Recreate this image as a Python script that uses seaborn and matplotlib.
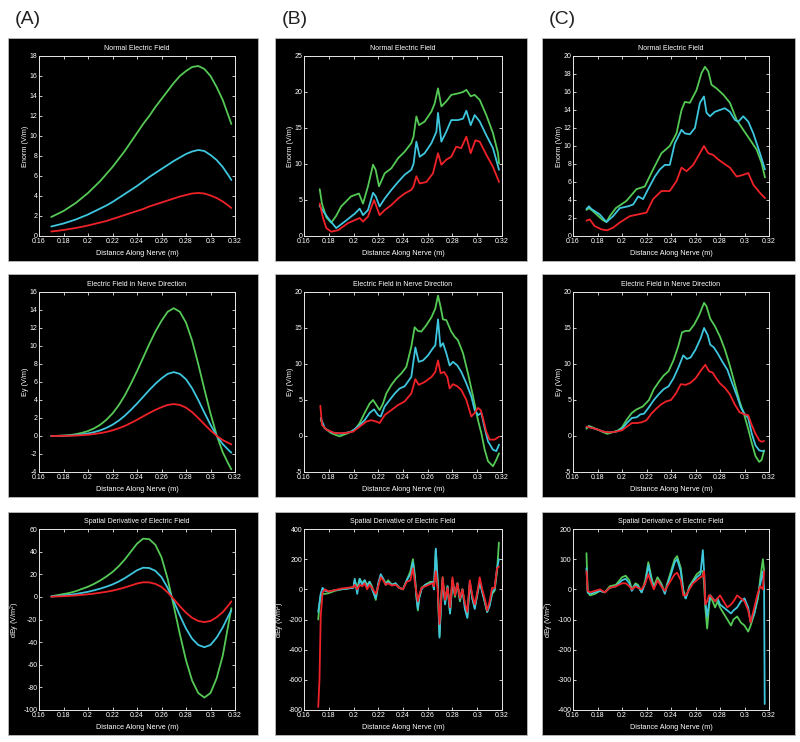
import numpy as np
import pandas as pd
import seaborn as sns
import matplotlib
matplotlib.use("Agg")
import matplotlib.pyplot as plt
from matplotlib.patches import Rectangle

# ---------------- DATA ----------------
x_tick_labels = ["0.16", "0.18", "0.2", "0.22", "0.24", "0.26", "0.28", "0.3", "0.32"]
x_ticks = [0.16, 0.18, 0.20, 0.22, 0.24, 0.26, 0.28, 0.30, 0.32]
titles = ["Normal Electric Field", "Electric Field in Nerve Direction", "Spatial Derivative of Electric Field"]
ylabels = ["Enorm (V/m)", "Ey (V/m)", "dEy (V/m$^2$)"]
panel_labels = ["(A)", "(B)", "(C)"]

# Column A (smooth)
A_x = [0.170, 0.175, 0.180, 0.185, 0.190, 0.195, 0.200, 0.205, 0.210, 0.215,
       0.220, 0.225, 0.230, 0.235, 0.240, 0.245, 0.250, 0.255, 0.260, 0.265,
       0.270, 0.275, 0.280, 0.285, 0.290, 0.295, 0.300, 0.305, 0.310, 0.315, 0.317]
A1_green = [1.9, 2.2, 2.5, 2.9, 3.3, 3.8, 4.3, 4.9, 5.5, 6.2, 6.9, 7.7, 8.5, 9.4, 10.3, 11.2,
            12.0, 12.9, 13.7, 14.5, 15.3, 16.0, 16.5, 16.9, 17.0, 16.7, 16.0, 14.9, 13.6, 11.9, 11.2]
A1_cyan = [0.95, 1.1, 1.25, 1.45, 1.65, 1.9, 2.15, 2.45, 2.75, 3.05, 3.4, 3.8, 4.2, 4.6, 5.0, 5.45,
           5.9, 6.3, 6.7, 7.1, 7.5, 7.85, 8.2, 8.45, 8.6, 8.5, 8.1, 7.6, 6.9, 6.0, 5.6]
A1_red = [0.45, 0.52, 0.6, 0.7, 0.8, 0.92, 1.05, 1.2, 1.35, 1.5, 1.7, 1.9, 2.1, 2.3, 2.5, 2.7,
          2.95, 3.15, 3.35, 3.55, 3.75, 3.95, 4.1, 4.25, 4.3, 4.25, 4.05, 3.8, 3.45, 3.0, 2.8]
A2_green = [0.0, 0.02, 0.05, 0.1, 0.2, 0.35, 0.55, 0.85, 1.25, 1.8, 2.5, 3.4, 4.5, 5.8, 7.2, 8.7,
            10.2, 11.6, 12.8, 13.8, 14.2, 13.8, 12.6, 10.6, 8.0, 5.2, 2.5, 0.1, -1.8, -3.2, -3.7]
A2_cyan = [0.0, 0.01, 0.03, 0.05, 0.1, 0.18, 0.28, 0.43, 0.63, 0.9, 1.25, 1.7, 2.25, 2.9, 3.6, 4.35,
           5.1, 5.8, 6.4, 6.9, 7.1, 6.9, 6.3, 5.3, 4.0, 2.6, 1.25, 0.05, -0.9, -1.6, -1.85]
A2_red = [0.0, 0.005, 0.015, 0.03, 0.05, 0.09, 0.14, 0.22, 0.32, 0.45, 0.63, 0.85, 1.12, 1.45, 1.8, 2.18,
          2.55, 2.9, 3.2, 3.45, 3.55, 3.45, 3.15, 2.65, 2.0, 1.3, 0.62, 0.03, -0.45, -0.8, -0.93]
A3_green = [0.5, 1.5, 2.5, 3.5, 5, 7, 9, 11.5, 14.5, 18, 22, 27, 33, 40, 47, 51.5,
            51, 46, 35, 16, -8, -33, -56, -74, -85, -89, -85, -72, -52, -22, -10]
A3_cyan = [0.3, 0.8, 1.3, 1.8, 2.5, 3.5, 4.5, 5.8, 7.3, 9, 11, 13.5, 16.5, 20, 23.5, 25.8,
           25.5, 23, 17.5, 8, -4, -16.5, -28, -37, -42.5, -44.5, -42.5, -36, -27, -16, -12]
A3_red = [0.1, 0.4, 0.6, 0.9, 1.3, 1.8, 2.3, 2.9, 3.7, 4.5, 5.5, 6.8, 8.3, 10, 11.8, 12.9,
          12.8, 11.5, 8.8, 4, -2, -8.3, -14, -18.5, -21.3, -22.3, -21.3, -18, -13.5, -7, -4]

# Column B
B1_green_x = [0.1727, 0.1745, 0.178, 0.182, 0.186, 0.190, 0.198, 0.2044, 0.2077, 0.2117,
              0.2158, 0.2179, 0.2206, 0.2252, 0.2306, 0.236, 0.2413, 0.2467, 0.2485, 0.2508,
              0.253, 0.2575, 0.263, 0.2656, 0.2683, 0.271, 0.275, 0.279, 0.2844, 0.2885,
              0.2912, 0.2947, 0.2979, 0.302, 0.3073, 0.3127, 0.3168, 0.3176]
B1_green = [6.5, 4.5, 2.6, 1.85, 2.8, 4.1, 5.5, 5.9, 4.5, 6.9,
            9.9, 9.2, 6.9, 8.7, 9.4, 10.8, 11.7, 12.9, 13.8, 16.6,
            15.4, 15.9, 17.3, 18.4, 20.5, 18.0, 18.7, 19.6, 19.8, 20.0,
            20.3, 19.4, 19.6, 18.9, 16.8, 14.3, 11.5, 10.1]
B1_cyan_x = [0.1725, 0.1794, 0.186, 0.1929, 0.201, 0.205, 0.2077, 0.2117, 0.2158, 0.218,
             0.2211, 0.2252, 0.2306, 0.236, 0.2413, 0.2467, 0.2485, 0.2508, 0.2535, 0.2575,
             0.263, 0.267, 0.2683, 0.271, 0.275, 0.279, 0.2844, 0.2885, 0.2912, 0.2947,
             0.2979, 0.302, 0.3073, 0.3127, 0.3176]
B1_cyan = [4.2, 2.5, 1.1, 2.0, 3.1, 3.8, 2.9, 3.6, 6.0, 5.5,
           4.1, 5.2, 6.4, 7.5, 8.5, 9.2, 10.0, 13.1, 11.0, 11.5,
           12.9, 14.5, 17.1, 13.1, 14.5, 16.1, 16.1, 16.3, 17.4, 15.4,
           16.8, 15.9, 14.0, 12.2, 9.2]
B1_red_x = [0.1727, 0.1754, 0.178, 0.182, 0.1875, 0.1956, 0.201, 0.205, 0.2077, 0.2117,
            0.2166, 0.2185, 0.2211, 0.2252, 0.2306, 0.236, 0.2413, 0.2467, 0.2485, 0.2508,
            0.2535, 0.2589, 0.2642, 0.2683, 0.271, 0.275, 0.279, 0.283, 0.287, 0.2912,
            0.2947, 0.2985, 0.302, 0.3073, 0.3127, 0.3176]
B1_red = [4.5, 2.5, 1.1, 0.6, 0.8, 1.8, 2.2, 2.5, 2.0, 2.7,
          5.0, 4.1, 2.9, 3.6, 4.3, 5.2, 5.9, 6.4, 6.9, 8.3,
          7.3, 7.5, 8.7, 11.5, 9.9, 10.6, 11.0, 12.4, 12.2, 13.8,
          11.5, 13.3, 13.1, 11.3, 9.6, 7.5]

B2_green_x = [0.1735, 0.1767, 0.182, 0.1888, 0.1956, 0.201, 0.205, 0.209, 0.213, 0.2158,
              0.2185, 0.2211, 0.2238, 0.2265, 0.2306, 0.2346, 0.2387, 0.2427, 0.2467, 0.2494,
              0.2521, 0.2548, 0.2589, 0.263, 0.2661, 0.2683, 0.2704, 0.2723, 0.275, 0.279,
              0.2817, 0.2844, 0.2885, 0.2925, 0.2966, 0.3006, 0.3033, 0.306, 0.3087, 0.3127,
              0.3154, 0.3176]
B2_green = [2.2, 1.1, 0.4, -0.05, 0.4, 0.85, 1.8, 3.2, 4.5, 5.0,
            4.3, 3.6, 4.5, 5.9, 7.1, 8.0, 8.7, 9.6, 12.4, 15.1,
            14.6, 14.5, 15.4, 16.5, 17.7, 19.5, 17.9, 16.2, 16.1, 14.5,
            13.8, 13.3, 11.5, 8.7, 5.5, 2.2, 0.4, -1.9, -3.5, -4.2,
            -3.3, -2.4]
B2_cyan_x = [0.1735, 0.1767, 0.182, 0.190, 0.198, 0.2036, 0.209, 0.213, 0.2166, 0.2198,
             0.222, 0.2252, 0.2292, 0.2333, 0.2373, 0.2413, 0.2467, 0.25, 0.2527, 0.2562,
             0.2602, 0.2642, 0.2661, 0.2683, 0.2702, 0.2723, 0.275, 0.2777, 0.2804, 0.2839,
             0.2871, 0.2912, 0.2952, 0.2979, 0.3006, 0.3033, 0.306, 0.3087, 0.3127, 0.3154,
             0.3176]
B2_cyan = [2.5, 1.1, 0.5, 0.3, 0.6, 1.3, 2.2, 3.2, 3.7, 2.9,
           2.7, 4.1, 5.0, 5.9, 6.6, 6.9, 8.2, 12.3, 10.3, 10.5,
           11.2, 12.2, 12.6, 16.2, 12.4, 12.9, 11.5, 9.8, 10.3, 9.8,
           8.9, 7.3, 5.5, 3.6, 2.9, 3.2, 1.1, -0.75, -1.9, -2.1,
           -1.2]
B2_red_x = [0.1732, 0.1746, 0.178, 0.1848, 0.1929, 0.1996, 0.205, 0.2104, 0.2144, 0.2185,
            0.2211, 0.2252, 0.2306, 0.236, 0.2413, 0.2467, 0.25, 0.2527, 0.2575, 0.263,
            0.2661, 0.2683, 0.2704, 0.2731, 0.2758, 0.2777, 0.2804, 0.2839, 0.2871, 0.2912,
            0.2952, 0.2979, 0.3006, 0.3028, 0.3046, 0.3073, 0.31, 0.314, 0.3176]
B2_red = [4.2, 1.5, 0.9, 0.4, 0.4, 0.6, 1.3, 2.0, 2.2, 2.0,
          1.8, 2.9, 3.6, 4.3, 4.8, 5.9, 7.9, 7.1, 7.5, 8.2,
          8.9, 10.5, 8.7, 8.9, 8.2, 6.6, 7.2, 6.9, 6.4, 5.0,
          2.7, 3.2, 3.9, 3.6, 2.5, 0.6, -0.5, -0.5, -0.1]

B3_x = [0.1715, 0.1725, 0.1735, 0.175, 0.177, 0.180, 0.185, 0.190, 0.195, 0.200,
        0.201, 0.203, 0.205, 0.207, 0.209, 0.211, 0.213, 0.215, 0.218, 0.220,
        0.222, 0.224, 0.226, 0.228, 0.231, 0.234, 0.237, 0.240, 0.243, 0.246,
        0.248, 0.2495, 0.251, 0.252, 0.253, 0.255, 0.258, 0.262, 0.264, 0.265,
        0.2665, 0.268, 0.2695, 0.271, 0.272, 0.274, 0.276, 0.278, 0.280, 0.282,
        0.284, 0.286, 0.288, 0.290, 0.292, 0.294, 0.296, 0.298, 0.300, 0.302,
        0.304, 0.306, 0.308, 0.310, 0.312, 0.314, 0.316, 0.3175]
B3_green = [-200, -100, -40, -30, -30, -25, -10, 0, 5, 15,
            60, 10, 70, 40, 60, 30, 50, 20, -70, 30,
            90, 70, 40, 60, 30, 40, 10, 0, 60, 120,
            200, 100, -60, -140, -60, 10, 30, 50, 50, 0,
            260, 50, -310, -50, 80, -80, 20, -160, 60, -50,
            40, -80, 0, -100, -180, 40, -60, -120, -40, 50,
            -10, -80, -150, -100, -30, -10, 120, 310]
B3_cyan = [-150, -90, -30, 10, -10, -15, -5, 0, 5, 10,
           70, -30, 70, 30, 60, 10, 50, 0, -60, 40,
           100, 70, 30, 50, 30, 40, 10, 0, 60, 100,
           180, 80, -60, -130, -60, 0, 30, 40, 50, 0,
           270, 50, -320, -50, 60, -100, 20, -160, 60, -40,
           40, -70, 0, -130, -190, 50, -60, -130, -30, 50,
           -20, -80, -150, -110, -20, 0, 140, 200]
B3_red = [-780, -600, -180, -20, 0, -15, -5, 5, 10, 15,
          30, 0, 30, 20, 40, 0, 30, 10, -30, 20,
          80, 60, 30, 40, 25, 30, 10, 0, 50, 60,
          140, 50, -30, -80, -40, 10, 20, 35, 40, 20,
          120, 0, -230, -50, 80, -70, 10, -120, 80, -40,
          40, -60, 0, -90, -150, 60, -40, -100, -20, 80,
          0, -60, -140, -80, 10, 10, 140, 150]

# Column C
C1_green_x = [0.171, 0.173, 0.176, 0.180, 0.184, 0.1873, 0.190, 0.195, 0.2036, 0.2118,
              0.2186, 0.2254, 0.2322, 0.239, 0.2445, 0.2486, 0.2513, 0.2554, 0.2608, 0.2649,
              0.2677, 0.2704, 0.2731, 0.2772, 0.2827, 0.2881, 0.2936, 0.299, 0.3045, 0.3099,
              0.314, 0.3167]
C1_green = [2.9, 3.1, 2.8, 2.3, 1.8, 1.55, 2.2, 3.1, 3.9, 5.2,
            5.5, 7.4, 9.2, 10.0, 11.4, 14.0, 14.9, 14.8, 16.2, 18.1,
            18.8, 18.3, 16.8, 16.4, 15.7, 14.8, 12.9, 11.8, 10.7, 9.6,
            8.1, 6.5]
C1_cyan_x = [0.171, 0.173, 0.175, 0.1818, 0.1873, 0.1927, 0.1982, 0.205, 0.2091, 0.2132,
             0.2172, 0.2213, 0.2268, 0.2309, 0.235, 0.239, 0.2431, 0.2486, 0.2513, 0.2554,
             0.2595, 0.2636, 0.2669, 0.269, 0.2718, 0.2758, 0.2799, 0.284, 0.2881, 0.2922,
             0.2949, 0.299, 0.3031, 0.3072, 0.3126, 0.3167]
C1_cyan = [3.0, 3.3, 3.0, 2.4, 1.55, 2.2, 3.1, 3.3, 3.5, 4.4,
           4.1, 5.2, 6.6, 7.4, 7.9, 7.9, 10.3, 11.8, 11.4, 11.3,
           12.0, 14.8, 15.5, 13.7, 13.3, 13.8, 14.0, 14.2, 13.8, 12.9,
           12.7, 13.3, 12.7, 11.4, 9.2, 7.4]
C1_red_x = [0.171, 0.1736, 0.1777, 0.1832, 0.1878, 0.1927, 0.1982, 0.2063, 0.2132, 0.22,
            0.2254, 0.2322, 0.239, 0.2445, 0.2486, 0.2527, 0.2581, 0.2636, 0.2669, 0.2704,
            0.2745, 0.2786, 0.2827, 0.2881, 0.2936, 0.299, 0.3031, 0.3072, 0.3126, 0.3167]
C1_red = [1.7, 1.85, 1.1, 0.74, 0.63, 0.92, 1.5, 2.2, 2.4, 2.6,
          4.1, 5.0, 5.0, 6.1, 7.6, 7.2, 7.9, 9.2, 10.0, 9.2,
          9.0, 8.5, 8.1, 7.6, 6.6, 6.8, 7.0, 5.7, 4.8, 4.2]

C2_green_x = [0.171, 0.173, 0.176, 0.18, 0.185, 0.188, 0.192, 0.197, 0.2, 0.204,
              0.208, 0.212, 0.217, 0.222, 0.226, 0.23, 0.234, 0.238, 0.242, 0.246,
              0.249, 0.252, 0.255, 0.259, 0.263, 0.267, 0.269, 0.272, 0.276, 0.28,
              0.284, 0.288, 0.292, 0.296, 0.3, 0.303, 0.306, 0.309, 0.312, 0.314, 0.316]
C2_green = [1.0, 1.4, 1.2, 0.9, 0.5, 0.3, 0.5, 0.8, 1.2, 2.3,
            3.2, 3.7, 4.1, 5.0, 6.5, 7.5, 8.4, 9.0, 10.5, 12.5,
            14.4, 14.6, 14.6, 15.5, 16.8, 18.5, 18.0, 16.3, 15.2, 13.8,
            12.0, 9.8, 7.3, 4.8, 2.8, 1.0, -1.0, -2.8, -3.6, -3.3, -2.0]
C2_cyan_x = [0.171, 0.173, 0.176, 0.18, 0.185, 0.19, 0.195, 0.2, 0.204, 0.208,
             0.212, 0.215, 0.218, 0.222, 0.226, 0.23, 0.234, 0.238, 0.242, 0.246,
             0.25, 0.253, 0.256, 0.26, 0.264, 0.267, 0.27, 0.272, 0.275, 0.278,
             0.282, 0.286, 0.29, 0.294, 0.297, 0.3, 0.303, 0.306, 0.309, 0.312, 0.315, 0.316]
C2_cyan = [1.2, 1.3, 1.1, 0.9, 0.6, 0.5, 0.6, 1.0, 1.8, 2.5,
           2.6, 3.0, 3.1, 4.0, 5.0, 5.8, 6.5, 6.9, 8.0, 9.5,
           11.2, 10.7, 10.9, 12.0, 13.5, 15.0, 14.0, 12.7, 12.3, 11.5,
           10.3, 9.2, 7.3, 5.5, 4.0, 3.1, 2.5, 0.3, -1.3, -2.0, -2.1, -2.1]
C2_red_x = [0.171, 0.173, 0.176, 0.18, 0.185, 0.19, 0.195, 0.2, 0.204, 0.208,
            0.212, 0.216, 0.22, 0.224, 0.228, 0.232, 0.236, 0.24, 0.244, 0.248,
            0.252, 0.256, 0.26, 0.264, 0.268, 0.271, 0.274, 0.277, 0.28, 0.284,
            0.288, 0.292, 0.296, 0.3, 0.303, 0.306, 0.309, 0.312, 0.314, 0.316]
C2_red = [1.3, 1.2, 1.1, 0.9, 0.6, 0.5, 0.6, 0.8, 1.3, 1.8,
          1.8, 1.9, 2.2, 3.1, 3.8, 4.4, 4.8, 5.0, 5.9, 7.2,
          7.1, 7.4, 8.0, 9.0, 9.9, 9.0, 8.8, 8.0, 7.3, 6.7,
          5.8, 4.4, 3.3, 3.0, 2.9, 1.5, 0.3, -0.6, -0.8, -0.7]

C3_x = [0.171, 0.172, 0.174, 0.178, 0.182, 0.186, 0.19, 0.195, 0.2, 0.203,
        0.206, 0.208, 0.211, 0.213, 0.216, 0.219, 0.2215, 0.224, 0.226, 0.229,
        0.232, 0.235, 0.237, 0.24, 0.243, 0.245, 0.248, 0.25, 0.252, 0.255,
        0.258, 0.261, 0.264, 0.266, 0.267, 0.268, 0.2695, 0.271, 0.272, 0.274,
        0.276, 0.278, 0.28, 0.283, 0.286, 0.289, 0.291, 0.294, 0.297, 0.3,
        0.303, 0.305, 0.308, 0.311, 0.313, 0.315, 0.316]
C3_cyan_x = C3_x + [0.3165]
C3_green = [120, -10, -20, -15, -5, -10, 10, 15, 40, 45,
            30, 0, 20, 15, -10, 30, 90, 40, 10, 40,
            20, -10, 20, 60, 100, 110, 70, 0, -30, 10,
            30, 50, 60, 60, 20, -60, -130, -60, -20, -40,
            -60, -40, -60, -80, -100, -120, -100, -90, -110, -120,
            -140, -120, -80, -30, 40, 100, 60]
C3_cyan = [70, -10, -15, -10, -5, -10, 5, 10, 30, 35,
           20, -5, 15, 10, -10, 20, 80, 30, 5, 30,
           15, -15, 15, 50, 90, 100, 60, -10, -30, 5,
           25, 40, 50, 130, 60, -40, -90, -50, -20, -30,
           -40, -30, -50, -60, -70, -80, -70, -60, -40, -30,
           -60, -110, -80, -20, 20, 60, 0, -380]
C3_red = [60, -5, -10, -5, 0, -10, 5, 10, 20, 20,
          10, 0, 10, 5, 0, 20, 50, 20, 0, 30,
          10, -5, 10, 30, 50, 55, 30, -20, -20, 0,
          20, 30, 40, 45, 60, -50, -40, -20, -20, -30,
          -40, -30, -20, -40, -60, -50, -40, -20, -30, -40,
          -70, -110, -60, -10, 10, 0, 60]

y_limits = {
    (0, 0): (0, 18, 2), (1, 0): (-4, 16, 2), (2, 0): (-100, 60, 20),
    (0, 1): (0, 25, 5), (1, 1): (-5, 20, 5), (2, 1): (-800, 400, 200),
    (0, 2): (0, 20, 2), (1, 2): (-5, 20, 5), (2, 2): (-400, 200, 100),
}

panels = {
    (0, 0): [(A_x, A1_green, "green"), (A_x, A1_cyan, "cyan"), (A_x, A1_red, "red")],
    (1, 0): [(A_x, A2_green, "green"), (A_x, A2_cyan, "cyan"), (A_x, A2_red, "red")],
    (2, 0): [(A_x, A3_green, "green"), (A_x, A3_cyan, "cyan"), (A_x, A3_red, "red")],
    (0, 1): [(B1_green_x, B1_green, "green"), (B1_cyan_x, B1_cyan, "cyan"), (B1_red_x, B1_red, "red")],
    (1, 1): [(B2_green_x, B2_green, "green"), (B2_cyan_x, B2_cyan, "cyan"), (B2_red_x, B2_red, "red")],
    (2, 1): [(B3_x, B3_green, "green"), (B3_x, B3_cyan, "cyan"), (B3_x, B3_red, "red")],
    (0, 2): [(C1_green_x, C1_green, "green"), (C1_cyan_x, C1_cyan, "cyan"), (C1_red_x, C1_red, "red")],
    (1, 2): [(C2_green_x, C2_green, "green"), (C2_cyan_x, C2_cyan, "cyan"), (C2_red_x, C2_red, "red")],
    (2, 2): [(C3_x, C3_green, "green"), (C3_cyan_x, C3_cyan, "cyan"), (C3_x, C3_red, "red")],
}

# ---------------- STYLE ----------------
sns.set_style("dark")
plt.rcParams["font.family"] = ["Liberation Sans", "DejaVu Sans"]
plt.rcParams["mathtext.fontset"] = "custom"
plt.rcParams["mathtext.rm"] = "Liberation Sans"
colors = {"green": "#55c955", "cyan": "#3ec6de", "red": "#ee2228"}

W, H = 800, 742
fig = plt.figure(figsize=(W / 100, H / 100), dpi=100, facecolor="white")

col_box = [(8, 258), (275, 527), (542, 795)]
row_box = [(38, 261), (274, 497), (512, 735)]
col_ax = [(39, 235), (304, 502), (573, 769)]
row_ax = [(56, 236), (292, 472), (529, 710)]
ylabel_offset_px = [10, 10, 17]

for c in range(3):
    for r in range(3):
        bx0, bx1 = col_box[c]
        by0, by1 = row_box[r]
        fig.patches.append(Rectangle((bx0 / W, 1 - by1 / H), (bx1 - bx0) / W, (by1 - by0) / H,
                                     transform=fig.transFigure, facecolor="black",
                                     edgecolor="#bbbbbb", linewidth=0.6, zorder=-5))
        L, R = col_ax[c]
        T, B = row_ax[r]
        ax = fig.add_axes([L / W, 1 - B / H, (R - L) / W, (B - T) / H])
        ax.set_zorder(2)
        ax.set_facecolor("black")
        for (xs, ys, cname) in panels[(r, c)]:
            df = pd.DataFrame({"x": xs, "y": ys})
            sns.lineplot(data=df, x="x", y="y", ax=ax, color=colors[cname], linewidth=1.3,
                         estimator=None, sort=False)
        lo, hi, step = y_limits[(r, c)]
        ax.set_xlim(0.16, 0.32)
        ax.set_ylim(lo, hi)
        ax.set_xticks(x_ticks)
        ax.set_xticklabels(x_tick_labels)
        yt = list(range(lo, hi + step, step))
        ax.set_yticks(yt)
        ax.set_yticklabels([str(v) for v in yt])
        ax.grid(False)
        for s in ax.spines.values():
            s.set_color("#e8e8e8")
            s.set_linewidth(0.7)
            s.set_visible(True)
        ax.tick_params(axis="both", which="both", direction="in", length=2.5, width=0.6,
                       colors="#e8e8e8", labelcolor="white", labelsize=5, pad=1.2,
                       top=True, right=True, bottom=True, left=True)
        ax.set_title(titles[r], color="white", fontsize=5, pad=4)
        ax.set_xlabel("Distance Along Nerve (m)", color="white", fontsize=5.2)
        ax.xaxis.set_label_coords(0.5, -14 / (B - T))
        ax.set_ylabel(ylabels[r], color="white", fontsize=5.2)
        ax.yaxis.set_label_coords(-ylabel_offset_px[r] / (R - L), 0.5)

for c in range(3):
    fig.text((col_box[c][0] + 7) / W, 1 - 19 / H, panel_labels[c], fontsize=14,
             color="#222222", va="center", ha="left")

fig.savefig("out.png", dpi=100, facecolor="white")
